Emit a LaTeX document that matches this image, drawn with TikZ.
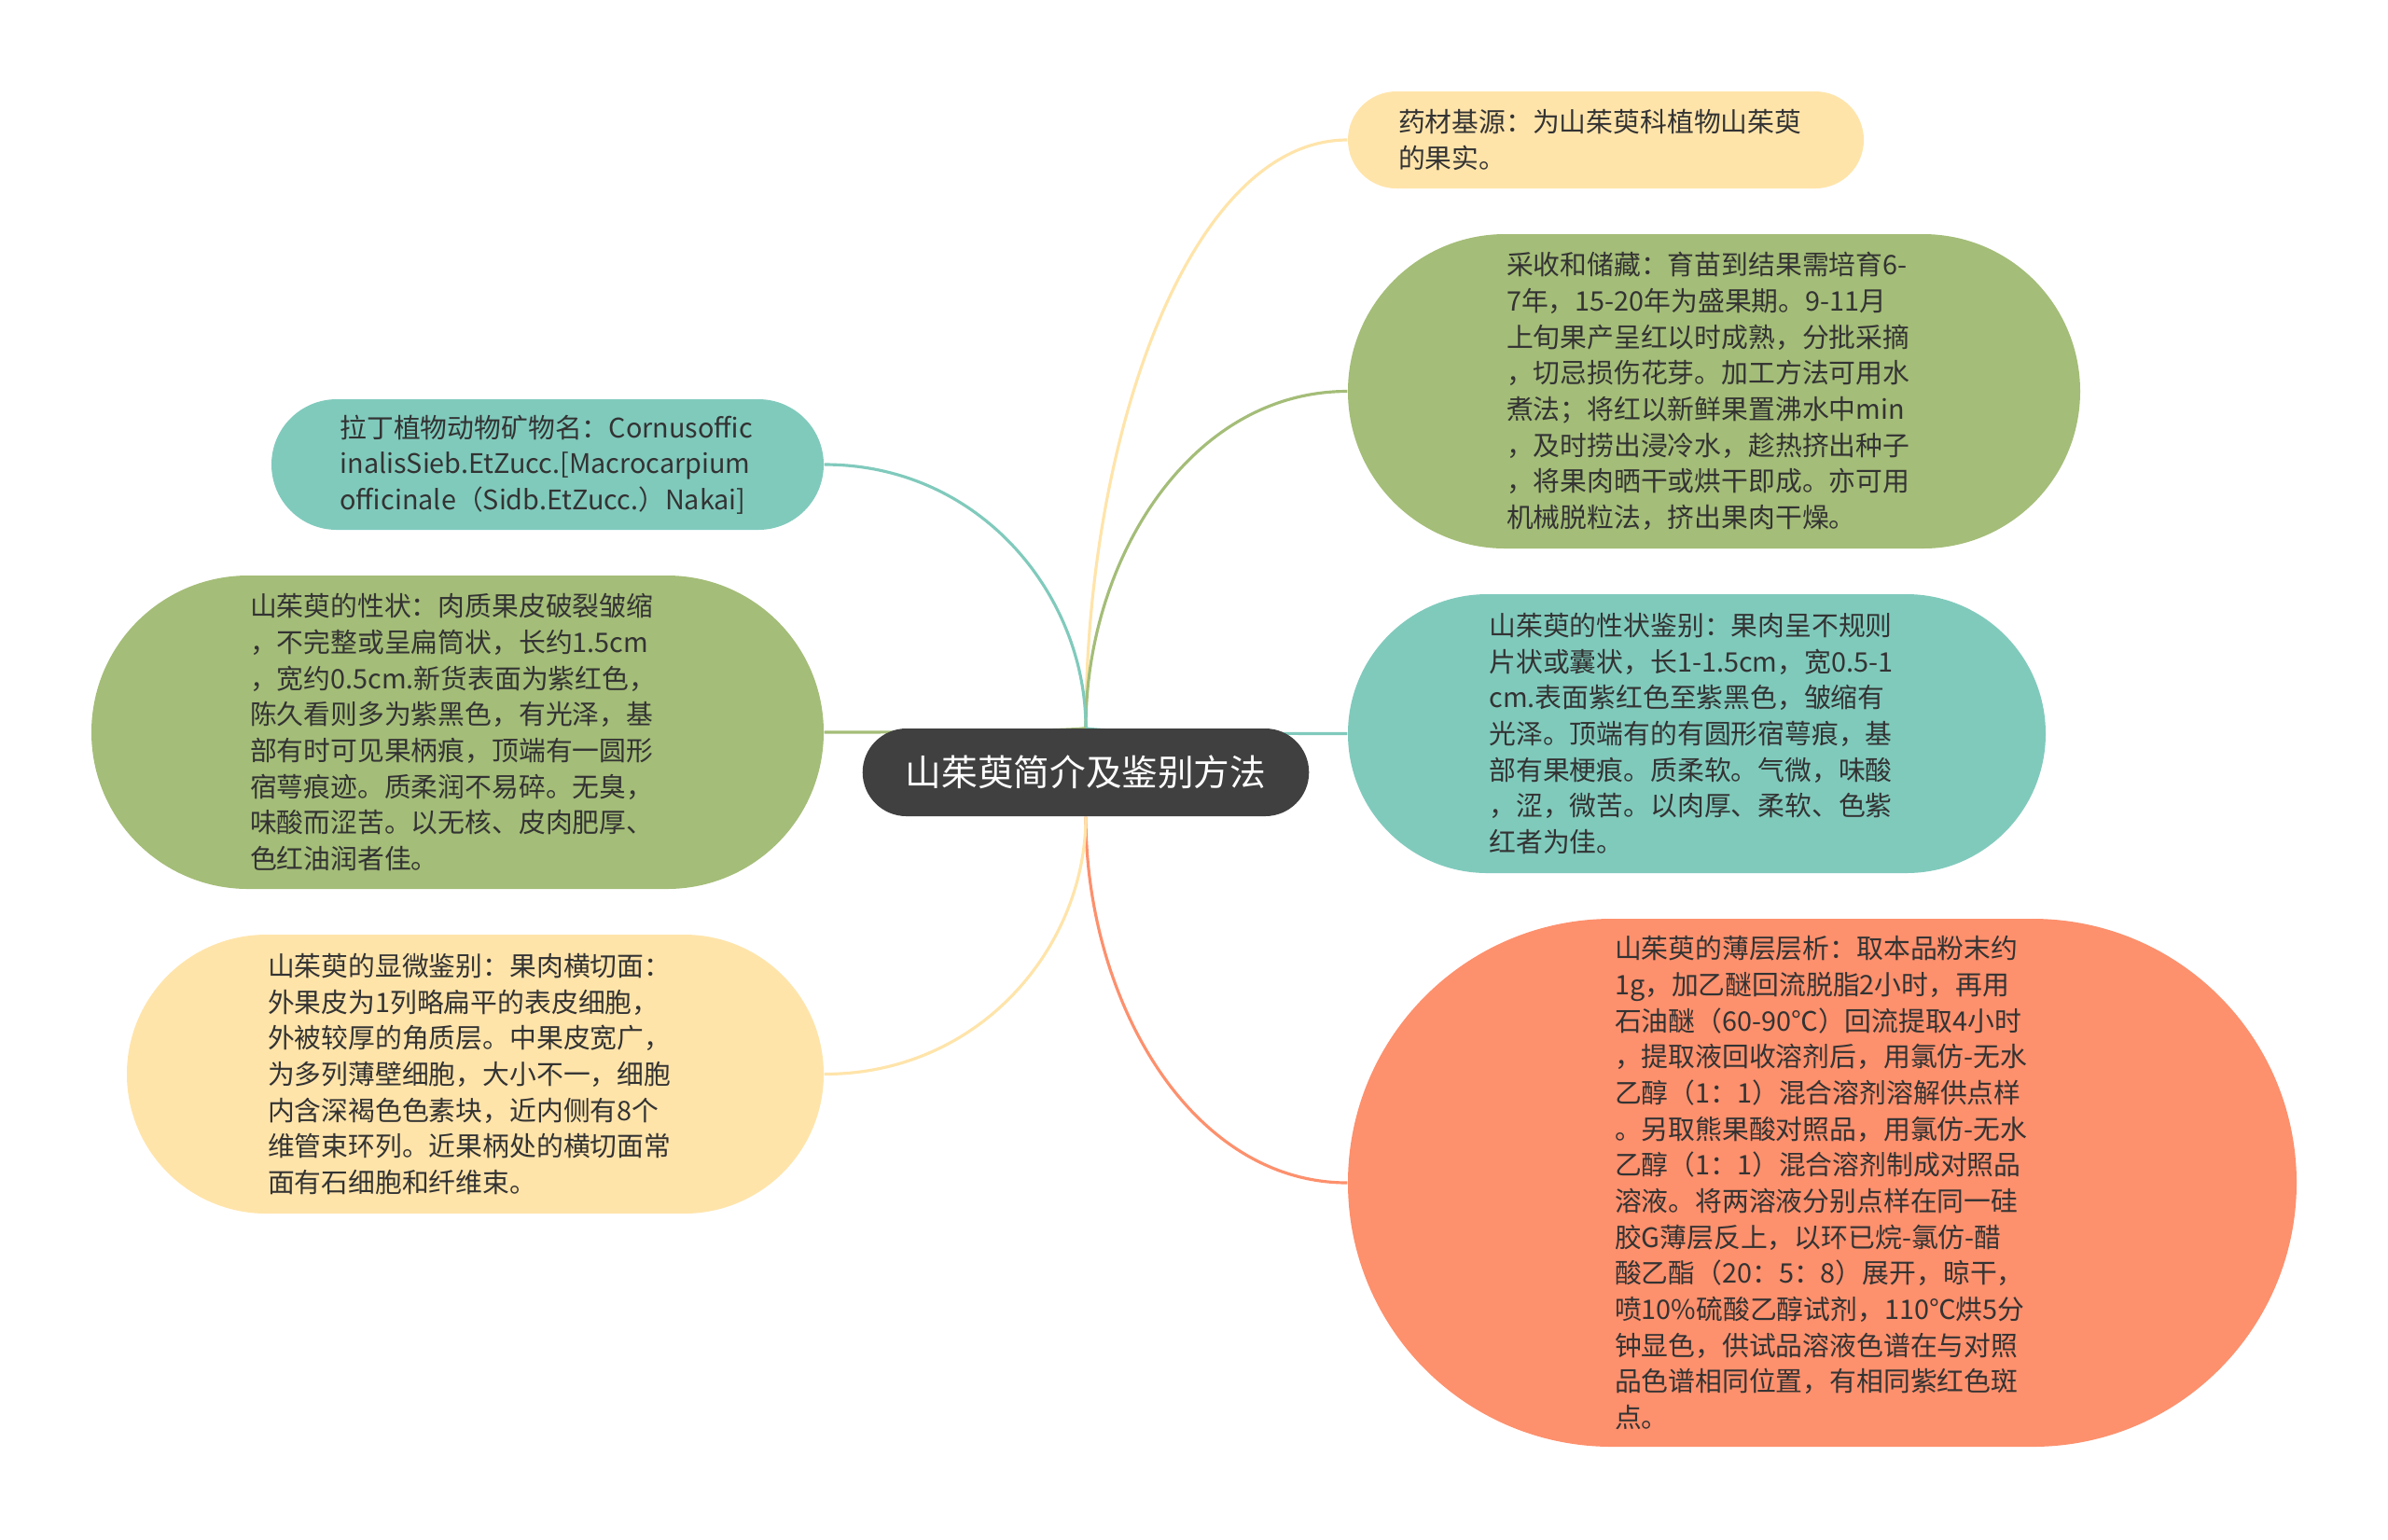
\documentclass[tikz,border=0pt]{standalone}
\usepackage{fontspec}
\setmainfont{Noto Sans CJK SC}
\usepackage{xcolor}
\usepackage{tikz}
\usetikzlibrary{shapes.misc,backgrounds,calc}

\definecolor{rootgray}{HTML}{404040}
\definecolor{textgray}{HTML}{333333}
\definecolor{leafyellow}{HTML}{FFE4AA}
\definecolor{leafgreen}{HTML}{A4BD78}
\definecolor{leafteal}{HTML}{80CABC}
\definecolor{leaforange}{HTML}{FD906D}

\begin{document}
\begin{tikzpicture}[
    central/.style={rounded rectangle, fill=rootgray, text=white, font=\fontsize{11}{13}\selectfont, minimum width=5.02cm, minimum height=0.94cm},
    leaf/.style={rounded rectangle, text=textgray, font=\fontsize{8.2}{11}\selectfont, text width=4.45cm, align=left, inner xsep=0pt, inner ysep=0pt},
    conn/.style={line width=0.9pt},
    curvy/.style={to path={.. controls ($(\tikztostart)!0.5!(\tikztostart |- \tikztotarget)$) and ($(\tikztostart |- \tikztotarget)!0.4!(\tikztotarget)$) .. (\tikztotarget)}}
]
    \useasboundingbox (0,0) rectangle (25.6,-16.5);

    % Central topic
    \node[central] (root) at (11.64,-8.28) {山茱萸简介及鉴别方法};
    \coordinate (hubup) at (root.north);
    \coordinate (hubdown) at (root.south);

    % Right side
    \node[leaf, fill=leafyellow, minimum width=5.53cm, minimum height=1.04cm] (source) at (17.215,-1.50)
        {药材基源：为山茱萸科植物山茱萸\\的果实。};
    \node[leaf, fill=leafgreen, minimum width=7.85cm, minimum height=3.37cm] (harvest) at (18.375,-4.195)
        {采收和储藏：育苗到结果需培育6-\\7年，15-20年为盛果期。9-11月\\上旬果产呈红以时成熟，分批采摘\\，切忌损伤花芽。加工方法可用水\\煮法；将红以新鲜果置沸水中min\\，及时捞出浸冷水，趁热挤出种子\\，将果肉晒干或烘干即成。亦可用\\机械脱粒法，挤出果肉干燥。};
    \node[leaf, fill=leafteal, minimum width=7.48cm, minimum height=2.99cm] (identify) at (18.19,-7.865)
        {山茱萸的性状鉴别：果肉呈不规则\\片状或囊状，长1-1.5cm，宽0.5-1\\cm.表面紫红色至紫黑色，皱缩有\\光泽。顶端有的有圆形宿萼痕，基\\部有果梗痕。质柔软。气微，味酸\\，涩，微苦。以肉厚、柔软、色紫\\红者为佳。};
    \node[leaf, fill=leaforange, minimum width=10.17cm, minimum height=5.66cm] (tlc) at (19.535,-12.68)
        {山茱萸的薄层层析：取本品粉末约\\1g，加乙醚回流脱脂2小时，再用\\石油醚（60-90℃）回流提取4小时\\，提取液回收溶剂后，用氯仿-无水\\乙醇（1：1）混合溶剂溶解供点样\\。另取熊果酸对照品，用氯仿-无水\\乙醇（1：1）混合溶剂制成对照品\\溶液。将两溶液分别点样在同一硅\\胶G薄层反上，以环已烷-氯仿-醋\\酸乙酯（20：5：8）展开，晾干，\\喷10\%硫酸乙醇试剂，110℃烘5分\\钟显色，供试品溶液色谱在与对照\\品色谱相同位置，有相同紫红色斑\\点。};

    % Left side
    \node[leaf, fill=leafteal, minimum width=5.92cm, minimum height=1.40cm] (latin) at (5.87,-4.98)
        {拉丁植物动物矿物名：Cornusoffic\\inalisSieb.EtZucc.[Macrocarpium\\officinale（Sidb.EtZucc.）Nakai]};
    \node[leaf, fill=leafgreen, minimum width=7.85cm, minimum height=3.36cm] (traits) at (4.905,-7.85)
        {山茱萸的性状：肉质果皮破裂皱缩\\，不完整或呈扁筒状，长约1.5cm\\，宽约0.5cm.新货表面为紫红色，\\陈久看则多为紫黑色，有光泽，基\\部有时可见果柄痕，顶端有一圆形\\宿萼痕迹。质柔润不易碎。无臭，\\味酸而涩苦。以无核、皮肉肥厚、\\色红油润者佳。};
    \node[leaf, fill=leafyellow, minimum width=7.47cm, minimum height=2.99cm] (micro) at (5.095,-11.515)
        {山茱萸的显微鉴别：果肉横切面：\\外果皮为1列略扁平的表皮细胞，\\外被较厚的角质层。中果皮宽广，\\为多列薄壁细胞，大小不一，细胞\\内含深褐色色素块，近内侧有8个\\维管束环列。近果柄处的横切面常\\面有石细胞和纤维束。};

    % Connectors behind the nodes
    \begin{scope}[on background layer]
        \draw[conn, curvy, leafyellow] (hubup) to (source.west);
        \draw[conn, curvy, leafgreen] (hubup) to (harvest.west);
        \draw[conn, curvy, leafteal] (hubup) to (identify.west);
        \draw[conn, curvy, leaforange] (hubdown) to (tlc.west);
        \draw[conn, curvy, leafteal] (hubup) to (latin.east);
        \draw[conn, curvy, leafgreen] (hubup) to (traits.east);
        \draw[conn, curvy, leafyellow] (hubdown) to (micro.east);
    \end{scope}
\end{tikzpicture}
\end{document}
